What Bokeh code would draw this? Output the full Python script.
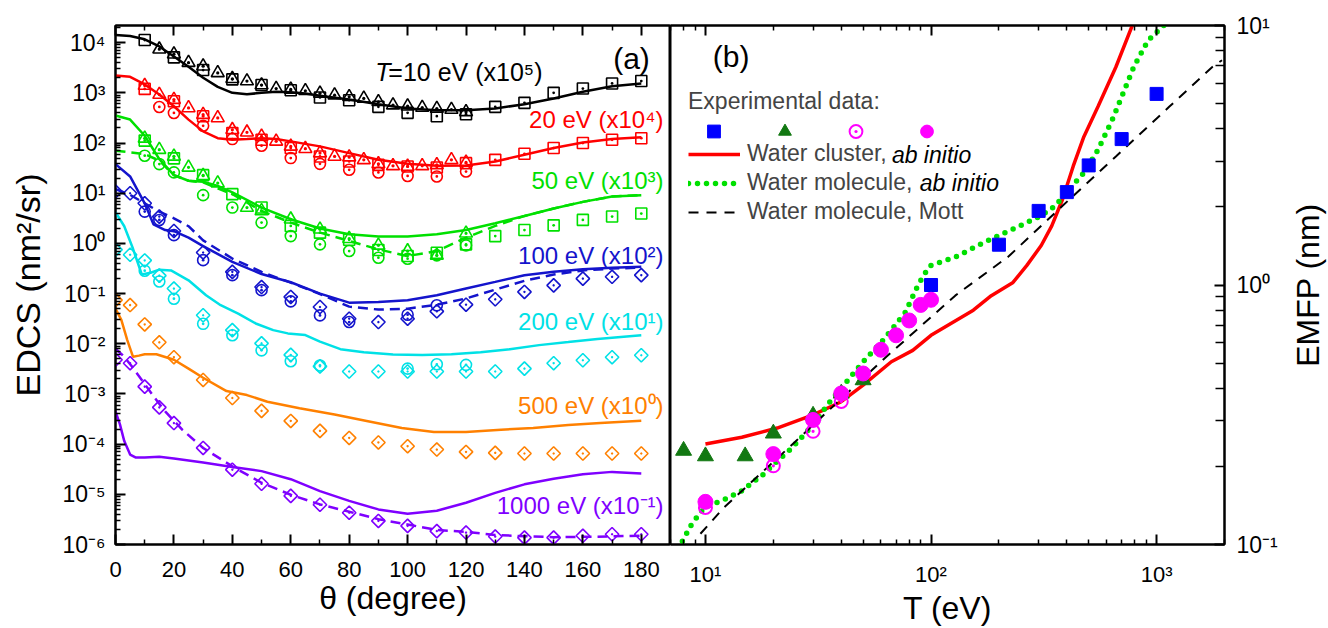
import math
from bokeh.plotting import figure
from bokeh.models import (Range1d, LinearAxis, LogAxis, Label, Legend, LegendItem,
                          FixedTicker, CustomJSTickFormatter)
from bokeh.layouts import row
from bokeh.embed import file_html
from bokeh.resources import INLINE

FONT = "Liberation Sans"

# ======================= panel (a) data: EDCS (scaled) =======================
th10 = [10, 20, 30, 40, 50, 60, 70, 80, 90, 100, 110, 120, 130, 140, 150, 160, 170, 180]
th_dm = [0, 5, 10, 15, 20, 30, 40, 50, 60, 70, 80, 90, 100, 110, 120, 130, 140, 150, 160, 170, 180]

# T = 10 eV (x1e5)
bk_line_th = [0, 5, 10, 15, 20, 25, 30, 35, 40, 45, 50, 55, 60, 65, 70, 80, 90, 100, 110, 120, 130, 140, 150, 160, 170, 180]
bk_line = [1.43e4, 1.36e4, 1.17e4, 8.4e3, 5.3e3, 3.3e3, 2.0e3, 1.32e3, 1000, 940, 1000, 1050, 1030, 975, 875,
           740, 595, 487, 450, 450, 487, 595, 775, 1050, 1360, 1540]
bk_sq = [1.13e4, 5.1e3, 2.85e3, 1.86e3, 1.43e3, 1.13e3, 810, 715, 527, 400, 342, 375, 527, 633, 1000, 1220, 1540, 1720]
bk_tri_th = [15, 20, 25, 30, 35, 40, 45, 50, 55, 60, 65, 70, 75, 80, 85, 90, 95, 100, 105, 110, 115, 120]
bk_tri = [7.4e3, 5.9e3, 4.0e3, 3.4e3, 2.5e3, 1.91e3, 1.72e3, 1.43e3, 1.22e3, 1.17e3, 1.1e3, 975, 900, 835, 775,
          663, 570, 542, 510, 487, 465, 418]

# T = 20 eV (x1e4)
rd_line_th = [0, 5, 10, 15, 20, 25, 30, 35, 40, 45, 50, 55, 60, 70, 80, 90, 100, 110, 120, 130, 140, 150, 160, 170, 180]
rd_line = [2210, 2090, 1470, 925, 541, 293, 171, 125, 116, 120, 125, 120, 108, 85.8, 63, 46.3, 38.5, 35.1, 35.7,
           42.9, 58.3, 79.4, 103, 120, 130]
rd_sq = [1200, 681, 341, 158, 116, 79.4, 54.1, 42.9, 36.8, 34.1, 32.5, 39.8, 46.3, 61.1, 79.4, 99.9, 116, 125]
rd_tri_th = [10, 15, 20, 25, 30, 35, 40, 45, 50, 55, 60, 65, 70, 75, 80, 85, 90, 95, 100, 105, 110, 115, 120]
rd_tri = [1400, 925, 735, 500, 368, 316, 184, 164, 136, 108, 85.8, 77, 63, 54.1, 52.4, 46.3, 38.5, 35.1, 34.1,
          35.1, 36.8, 46.3, 41]
rd_ci_th = [15, 20, 30, 40, 50, 60, 70, 80, 90, 100, 110, 120]
rd_ci = [524, 398, 221, 120, 88.4, 50.2, 38.5, 29.3, 25.9, 22.1, 21.6, 27.1]

# T = 50 eV (x1e3)
gr_line_th = [0, 5, 10, 15, 20, 25, 30, 35, 40, 50, 60, 70, 80, 90, 100, 110, 120, 130, 140, 150, 160, 170, 180]
gr_line = [353, 294, 140, 48, 22.9, 17.7, 17, 14, 10.4, 5.18, 3.03, 1.98, 1.52, 1.37, 1.37, 1.52, 1.85, 2.52,
           3.53, 4.96, 6.73, 8.61, 9.15]
gr_dash_th = [0, 5, 10, 15, 20, 25, 30, 40, 50, 60, 70, 80, 90, 100, 110, 120, 130, 140, 150, 160, 170, 180]
gr_dash = [70.5, 65.3, 60.4, 44.5, 22.9, 17.7, 16.4, 9.58, 4.45, 2.6, 1.64, 1.12, 0.76, 0.56, 0.705, 1.3, 2.23,
           3.53, 4.96, 6.73, 8.61, 9.15]
gr_sq = [112, 49.6, 22.9, 9.58, 5.18, 2.23, 1.64, 1.18, 0.737, 0.56, 0.653, 0.958, 1.4, 1.85, 2.29, 2.94, 3.43, 3.94]
gr_tri_th = [10, 15, 20, 25, 30, 35, 45, 50, 60, 70, 80, 90, 100, 110, 120]
gr_tri = [124, 73.8, 54.3, 32.8, 22.3, 15.9, 5.18, 4.45, 3.03, 1.91, 1.24, 0.915, 0.705, 0.577, 1.59]
gr_ci_th = [10, 15, 20, 30, 40, 50, 60, 70, 80, 90, 100, 110, 120]
gr_ci = [56, 38.1, 26, 9.15, 5.18, 2.6, 1.4, 0.958, 0.705, 0.518, 0.496, 0.577, 0.915]

# T = 100 eV (x1e2)
bl_line_th = [0, 5, 10, 13, 17, 20, 25, 30, 40, 50, 60, 70, 80, 90, 100, 110, 120, 130, 140, 150, 160, 170, 180]
bl_line = [38, 21.6, 6.3, 2.4, 1.85, 1.75, 1.3, 0.88, 0.43, 0.245, 0.168, 0.1, 0.066, 0.068, 0.0736, 0.0926,
           0.126, 0.171, 0.233, 0.271, 0.306, 0.326, 0.342]
bl_dash_th = [0, 5, 10, 15, 20, 25, 30, 40, 50, 60, 70, 80, 90, 100, 110, 120, 130, 140, 150, 160, 170, 180]
bl_dash = [12.1, 9.26, 6.3, 4.3, 3.16, 2.2, 1.15, 0.5, 0.27, 0.165, 0.098, 0.055, 0.048, 0.05, 0.06, 0.08, 0.12,
           0.18, 0.24, 0.29, 0.315, 0.33]
bl_dm = [10.8, 10, 6.3, 3.42, 1.77, 0.66, 0.271, 0.135, 0.0858, 0.054, 0.0316, 0.0271, 0.0316, 0.0443, 0.0601,
         0.077, 0.108, 0.146, 0.199, 0.216, 0.233]
bl_ci_th = [10, 15, 20, 30, 40, 50, 60, 70, 80, 100, 110]
bl_ci = [4.3, 2.93, 1.46, 0.464, 0.233, 0.117, 0.07, 0.0368, 0.0271, 0.038, 0.0584]

# T = 200 eV (x1e1)
cy_line_th = [0, 3, 6, 9, 12, 15, 19, 25, 31, 36, 42, 48, 54, 59, 65, 70, 77, 85, 95, 105, 115, 125, 135, 145,
              155, 165, 175, 180]
cy_line = [4.2, 2.2, 0.78, 0.24, 0.26, 0.30, 0.29, 0.184, 0.0925, 0.0586, 0.040, 0.0254, 0.0187, 0.0161, 0.0149,
           0.011, 0.0078, 0.0068, 0.0061, 0.006, 0.0062, 0.0068, 0.0078, 0.0094, 0.0108, 0.0125, 0.014, 0.0148]
cy_dm = [0.75, 0.594, 0.458, 0.228, 0.126, 0.037, 0.0187, 0.0102, 0.006, 0.00355, 0.0028, 0.0028, 0.0028, 0.0028,
         0.0028, 0.0028, 0.0032, 0.0041, 0.0047, 0.0054, 0.0059]
cy_ci_th = [10, 15, 20, 30, 40, 50, 60, 70, 100, 110, 120]
cy_ci = [0.286, 0.174, 0.079, 0.025, 0.0148, 0.0074, 0.0045, 0.0037, 0.0032, 0.0039, 0.0038]

# T = 500 eV (x1e0)
or_line_th = [0, 2, 4, 6, 8, 10, 14, 20, 25, 30, 38, 45, 52, 63, 75, 86, 98, 109, 120, 132, 143, 155, 166, 180]
or_line = [0.05, 0.03, 0.012, 0.0055, 0.0058, 0.0062, 0.0062, 0.0048, 0.0032, 0.0021, 0.00114, 9.5e-4, 7e-4,
           5.2e-4, 3.9e-4, 2.9e-4, 2.1e-4, 1.74e-4, 1.74e-4, 1.94e-4, 2.1e-4, 2.4e-4, 2.65e-4, 2.93e-4]
or_dm = [0.074, 0.059, 0.0243, 0.0107, 0.0054, 0.0019, 8.3e-4, 4.6e-4, 2.9e-4, 1.84e-4, 1.33e-4, 1.08e-4, 9.1e-5,
         7.8e-5, 7.0e-5, 6.7e-5, 6.5e-5, 6.5e-5, 6.5e-5, 6.5e-5, 6.5e-5]

# T = 1000 eV (x1e-1)
vi_line_th = [0, 1.5, 3, 5, 7, 10, 15, 20, 30, 40, 50, 60, 70, 80, 90, 100, 110, 120, 130, 140, 150, 160, 170, 180]
vi_line = [4.5e-4, 2.5e-4, 1.15e-4, 6.2e-5, 5.4e-5, 5.4e-5, 5.6e-5, 5.2e-5, 4.3e-5, 3.5e-5, 2.9e-5, 2.0e-5,
           1.16e-5, 7.4e-6, 5.0e-6, 4.1e-6, 4.7e-6, 6.8e-6, 1.07e-5, 1.58e-5, 2.05e-5, 2.5e-5, 2.8e-5, 2.6e-5]
vi_dash_th = [0, 3, 6, 9, 13, 17, 23, 30, 40, 50, 60, 70, 80, 90, 100, 110, 120, 130, 140, 150, 160, 170, 180]
vi_dash = [0.008, 0.0055, 0.0033, 0.0019, 9e-4, 4.5e-4, 1.9e-4, 8.4e-5, 3.6e-5, 1.7e-5, 9.8e-6, 6.3e-6, 4.5e-6,
           3.2e-6, 2.5e-6, 1.95e-6, 1.78e-6, 1.55e-6, 1.46e-6, 1.4e-6, 1.42e-6, 1.45e-6, 1.5e-6]
vi_dm = [0.0048, 0.0041, 0.0014, 5.4e-4, 2.63e-4, 8.4e-5, 3.1e-5, 1.62e-5, 9.3e-6, 6.2e-6, 4.3e-6, 2.95e-6,
         2.35e-6, 1.85e-6, 1.73e-6, 1.44e-6, 1.37e-6, 1.37e-6, 1.49e-6, 1.6e-6, 1.6e-6]

# ======================= panel (b) data: EMFP =======================
cl_T = [10, 14.5, 20.8, 30, 40, 50, 66.7, 83, 100, 154, 185, 230, 266, 308, 343, 383, 427, 476, 550, 660, 780]
cl_L = [0.244, 0.259, 0.281, 0.316, 0.355, 0.411, 0.506, 0.56, 0.64, 0.80, 0.91, 1.02, 1.19, 1.42, 1.69, 2.14,
        2.87, 3.73, 4.87, 6.92, 10]
mol_T = [7.9, 8.7, 9.9, 12.1, 14.5, 18, 20, 24.1, 30, 34.7, 40, 50, 62, 77, 86, 92.6, 100, 128, 172, 230, 308,
         356, 397, 477, 550, 636, 710, 792, 917, 1077]
mol_L = [0.103, 0.12, 0.139, 0.149, 0.161, 0.186, 0.203, 0.235, 0.289, 0.345, 0.40, 0.506, 0.62, 0.785, 0.966,
         1.09, 1.19, 1.28, 1.46, 1.64, 1.85, 2.02, 2.27, 2.71, 3.32, 4.33, 5.47, 6.92, 8.77, 10]
mott_T = [9.5, 12.1, 25, 62, 128, 221, 383, 660, 1140, 1766, 1950]
mott_L = [0.11, 0.139, 0.249, 0.52, 0.91, 1.29, 2.02, 3.13, 4.87, 6.92, 7.35]
exp_sq_T = [100, 200, 300, 400, 500, 700, 1000]
exp_sq_L = [1.0, 1.43, 1.93, 2.28, 2.89, 3.65, 5.45]
exp_tri_T = [8, 10, 15, 20, 30, 40, 50]
exp_tri_L = [0.23, 0.219, 0.219, 0.268, 0.314, 0.382, 0.43]
exp_ci_T = [10, 20, 30, 40, 50, 60, 70, 80, 90, 100]
exp_ci_L = [0.146, 0.223, 0.302, 0.382, 0.456, 0.563, 0.64, 0.73, 0.838, 0.877]
exp_oc_T = [10, 20, 30, 40]
exp_oc_L = [0.139, 0.201, 0.273, 0.356]

# ======================= ticks =======================
a_xticks = [0, 20, 40, 60, 80, 100, 120, 140, 160, 180]
a_xminor = [10, 30, 50, 70, 90, 110, 130, 150, 170]
a_yticks = [1e-6, 1e-5, 1e-4, 1e-3, 1e-2, 1e-1, 1, 10, 100, 1000, 1e4]
a_ylabels = ["10\u207b\u2076", "10\u207b\u2075", "10\u207b\u2074", "10\u207b\u00b3", "10\u207b\u00b2",
             "10\u207b\u00b9", "10\u2070", "10\u00b9", "10\u00b2", "10\u00b3", "10\u2074"]
b_xticks = [10, 100, 1000]
b_xlabels = ["10\u00b9", "10\u00b2", "10\u00b3"]
b_yticks = [0.1, 1, 10]
b_ylabels = ["10\u207b\u00b9", "10\u2070", "10\u00b9"]

# ======================= layout geometry (pixels) =======================
TOP, BOT = 25, 547
A_L, A_R = 115, 670
B_L, B_R = 670, 1228
C_L = 1280
XA = (0, 190)
YA = (1e-6, 2.2e4)
XB = (7, 2000)
YB = (0.1, 10)


def ax_px(px):
    return XA[0] + (px - A_L) * (XA[1] - XA[0]) / (A_R - A_L)


def ay_px(py):
    l0, l1 = math.log10(YA[0]), math.log10(YA[1])
    return 10 ** (l1 - (py - TOP) * (l1 - l0) / (BOT - TOP))


def bx_px(px):
    l0, l1 = math.log10(XB[0]), math.log10(XB[1])
    return 10 ** (l0 + (px - B_L) * (l1 - l0) / (B_R - B_L))


def by_px(py):
    l0, l1 = math.log10(YB[0]), math.log10(YB[1])
    return 10 ** (l1 - (py - TOP) * (l1 - l0) / (BOT - TOP))


def log_formatter(vals, labs):
    return CustomJSTickFormatter(args=dict(vals=vals, labs=labs), code="""
        for (let i = 0; i < vals.length; i++) {
            if (Math.abs(Math.log10(vals[i]) - Math.log10(tick)) < 1e-6) { return labs[i]; }
        }
        return "";
    """)


def blank():
    return CustomJSTickFormatter(code="return '';")


def style_axis(ax, fs="22px", standoff=10):
    ax.axis_line_width = 2
    ax.axis_line_color = "black"
    ax.major_tick_in = 10
    ax.major_tick_out = 0
    ax.minor_tick_in = 5
    ax.minor_tick_out = 0
    ax.major_tick_line_width = 2
    ax.minor_tick_line_width = 1.5
    ax.major_tick_line_color = "black"
    ax.minor_tick_line_color = "black"
    ax.major_label_text_font = FONT
    ax.major_label_text_font_size = fs
    ax.major_label_text_color = "black"
    ax.major_label_standoff = standoff


def axis_title(ax, text, standoff, size="32px"):
    ax.axis_label = text
    ax.axis_label_text_font = FONT
    ax.axis_label_text_font_size = size
    ax.axis_label_text_font_style = "normal"
    ax.axis_label_text_color = "black"
    ax.axis_label_standoff = standoff


def add_text(p, x, y, text, size, color="black", align="left", style="normal", angle=0.0):
    p.add_layout(Label(x=x, y=y, text=text, text_font=FONT, text_font_size=f"{size}px",
                       text_color=color, text_align=align, text_baseline="middle",
                       text_font_style=style, angle=angle))


def dline(p, x, y, color, dash="solid", width=2.5):
    return p.line(x, y, line_color=color, line_width=width, line_dash=dash)


def mark(p, x, y, marker, color, size, angle=0.0):
    return p.scatter(x, y, marker=marker, size=size, angle=angle, line_color=color,
                     fill_color=None, line_width=1.6)


# ======================= panel (a) =======================
pa = figure(width=A_R, height=628, x_range=Range1d(*XA), y_range=Range1d(*YA), y_axis_type="log",
            output_backend="svg", toolbar_location=None, min_border_left=A_L, min_border_right=0,
            min_border_top=TOP, min_border_bottom=628 - BOT)
pa.grid.visible = False
pa.outline_line_color = "black"
pa.outline_line_width = 2

pa.xaxis.ticker = FixedTicker(ticks=a_xticks, minor_ticks=a_xminor)
style_axis(pa.xaxis[0], standoff=17)
axis_title(pa.xaxis[0], "\u03b8 (degree)", 0)
pa.yaxis.ticker = FixedTicker(ticks=a_yticks,
                              minor_ticks=[m * t for t in a_yticks[:-1] for m in range(2, 10)]
                              + [2e4])
pa.yaxis.formatter = log_formatter(a_yticks, a_ylabels)
style_axis(pa.yaxis[0], fs="23px", standoff=10)
axis_title(pa.yaxis[0], "EDCS (nm\u00b2/sr)", 12, "34px")
top_a = LinearAxis(ticker=FixedTicker(ticks=a_xticks, minor_ticks=a_xminor), formatter=blank())
style_axis(top_a)
pa.add_layout(top_a, "above")

BLACK, RED, GREEN, BLUE, CYAN, ORANGE, VIOLET = ("black", "#FF0000", "#00E000", "#1414CC", "#00E1E6",
                                                 "#FF8000", "#7F00FF")
DIAM = math.pi / 4
DASH = "10 6"

# lines
dline(pa, bk_line_th, bk_line, BLACK)
dline(pa, rd_line_th, rd_line, RED)
dline(pa, gr_line_th, gr_line, GREEN)
dline(pa, gr_dash_th, gr_dash, GREEN, DASH)
dline(pa, bl_line_th, bl_line, BLUE)
dline(pa, bl_dash_th, bl_dash, BLUE, DASH)
dline(pa, cy_line_th, cy_line, CYAN)
dline(pa, or_line_th, or_line, ORANGE)
dline(pa, vi_line_th, vi_line, VIOLET)
dline(pa, vi_dash_th, vi_dash, VIOLET, DASH)

# markers
mark(pa, th10, bk_sq, "square_dot", BLACK, 11)
mark(pa, bk_tri_th, bk_tri, "triangle_dot", BLACK, 13)
mark(pa, th10, rd_sq, "square_dot", RED, 11)
mark(pa, rd_tri_th, rd_tri, "triangle_dot", RED, 13)
mark(pa, rd_ci_th, rd_ci, "circle_dot", RED, 11)
mark(pa, th10, gr_sq, "square_dot", GREEN, 11)
mark(pa, gr_tri_th, gr_tri, "triangle_dot", GREEN, 13)
mark(pa, gr_ci_th, gr_ci, "circle_dot", GREEN, 11)
mark(pa, bl_ci_th, bl_ci, "circle_dot", BLUE, 11)
mark(pa, th_dm, bl_dm, "square_dot", BLUE, 9.5, DIAM)
mark(pa, cy_ci_th, cy_ci, "circle_dot", CYAN, 11)
mark(pa, th_dm, cy_dm, "square_dot", CYAN, 9.5, DIAM)
mark(pa, th_dm, or_dm, "square_dot", ORANGE, 9.5, DIAM)
mark(pa, th_dm, vi_dm, "square_dot", VIOLET, 9.5, DIAM)

# curve labels (right aligned near the right edge)
RX = ax_px(663)
add_text(pa, ax_px(542), ay_px(72), "=10 eV (x10\u2075)", 25, BLACK, "right")
add_text(pa, ax_px(542 - 152), ay_px(72), "T", 25, BLACK, "right", "italic")
add_text(pa, ax_px(631), ay_px(58), "(a)", 30, BLACK, "center")
add_text(pa, RX, ay_px(120), "20 eV (x10\u2074)", 24, RED, "right")
add_text(pa, RX, ay_px(181), "50 eV (x10\u00b3)", 24, GREEN, "right")
add_text(pa, RX, ay_px(256), "100 eV (x10\u00b2)", 24, BLUE, "right")
add_text(pa, RX, ay_px(323), "200 eV (x10\u00b9)", 24, CYAN, "right")
add_text(pa, RX, ay_px(407), "500 eV (x10\u2070)", 24, ORANGE, "right")
add_text(pa, RX, ay_px(508), "1000 eV (x10\u207b\u00b9)", 24, VIOLET, "right")

# ======================= panel (b) =======================
pb = figure(width=C_L - B_L, height=628, x_range=Range1d(*XB), y_range=Range1d(*YB),
            x_axis_type="log", y_axis_type="log", y_axis_location="right",
            output_backend="svg", toolbar_location=None, min_border_left=0,
            min_border_right=C_L - B_R, min_border_top=TOP, min_border_bottom=628 - BOT)
pb.grid.visible = False
pb.outline_line_color = "black"
pb.outline_line_width = 2

b_xminor = [m * t for t in [1, 10, 100, 1000] for m in range(2, 10)]
pb.xaxis.ticker = FixedTicker(ticks=b_xticks, minor_ticks=b_xminor)
pb.xaxis.formatter = log_formatter(b_xticks, b_xlabels)
style_axis(pb.xaxis[0], standoff=17)
axis_title(pb.xaxis[0], "T (eV)", 0)
b_yminor = [m * t for t in [0.1, 1] for m in range(2, 10)]
pb.yaxis.ticker = FixedTicker(ticks=b_yticks, minor_ticks=b_yminor)
pb.yaxis.formatter = log_formatter(b_yticks, b_ylabels)
style_axis(pb.yaxis[0], fs="23px", standoff=12)
pb.yaxis[0].minor_tick_in = 9
top_b = LogAxis(ticker=FixedTicker(ticks=b_xticks, minor_ticks=b_xminor), formatter=blank())
style_axis(top_b)
pb.add_layout(top_b, "above")

r_cl = pb.line(cl_T, cl_L, line_color="#FF0000", line_width=3.5)
r_mol = pb.line(mol_T, mol_L, line_color="#00E000", line_width=5.5, line_dash="0 9", line_cap="round")
r_mott = pb.line(mott_T, mott_L, line_color="black", line_width=2, line_dash="10 8")
r_sq = pb.scatter(exp_sq_T, exp_sq_L, marker="square", size=13, fill_color="#0000FF", line_color="#0000FF")
r_tri = pb.scatter(exp_tri_T, exp_tri_L, marker="triangle", size=16, fill_color="#127812",
                   line_color="#127812")
r_oc = pb.scatter(exp_oc_T, exp_oc_L, marker="circle_dot", size=13, fill_color=None, line_color="#FF00FF",
                  line_width=2)
r_ci = pb.scatter(exp_ci_T, exp_ci_L, marker="circle", size=15, fill_color="#FF00FF", line_color="#FF00FF")

leg1 = Legend(items=[LegendItem(label=" ", renderers=[r_sq]), LegendItem(label=" ", renderers=[r_tri]),
                     LegendItem(label=" ", renderers=[r_oc]), LegendItem(label=" ", renderers=[r_ci])],
              title="Experimental data:", orientation="horizontal", location=(18, 397),
              glyph_width=51, glyph_height=32, label_standoff=0, spacing=0, padding=0, margin=0,
              label_text_font_size="1px", border_line_alpha=0, background_fill_alpha=0,
              title_text_font=FONT, title_text_font_size="23px", title_text_font_style="normal",
              title_standoff=0)
pb.add_layout(leg1)
leg2 = Legend(items=[LegendItem(label="Water cluster,", renderers=[r_cl]),
                     LegendItem(label="Water molecule,", renderers=[r_mol]),
                     LegendItem(label="Water molecule, Mott", renderers=[r_mott])],
              orientation="vertical", location=(18, 319), glyph_width=52, glyph_height=26,
              label_height=26, label_standoff=7, spacing=2, padding=0, margin=0,
              label_text_font=FONT, label_text_font_size="23px", border_line_alpha=0,
              background_fill_alpha=0)
pb.add_layout(leg2)
add_text(pb, bx_px(893), by_px(155), "ab initio", 23, "black", "left", "italic")
add_text(pb, bx_px(921), by_px(183), "ab initio", 23, "black", "left", "italic")

add_text(pb, bx_px(731), by_px(56), "(b)", 30, "black", "center")

# ======================= right-hand title strip (EMFP axis title, reading upwards) =======================
pc = figure(width=1328 - C_L, height=628, x_range=Range1d(0, 1), y_range=Range1d(*YB), y_axis_type="log",
            output_backend="svg", toolbar_location=None, min_border_left=1328 - C_L - 1,
            min_border_right=0, min_border_top=TOP, min_border_bottom=628 - BOT)
pc.xaxis.visible = False
pc.grid.visible = False
pc.outline_line_color = None
yc = pc.yaxis[0]
yc.ticker = FixedTicker(ticks=[])
yc.formatter = blank()
yc.axis_line_color = None
yc.major_tick_line_color = None
yc.minor_tick_line_color = None
yc.major_label_standoff = 0
axis_title(yc, "EMFP (nm)", 2)

layout = row(pa, pb, pc)
open("out.html", "w").write(file_html(layout, INLINE))
